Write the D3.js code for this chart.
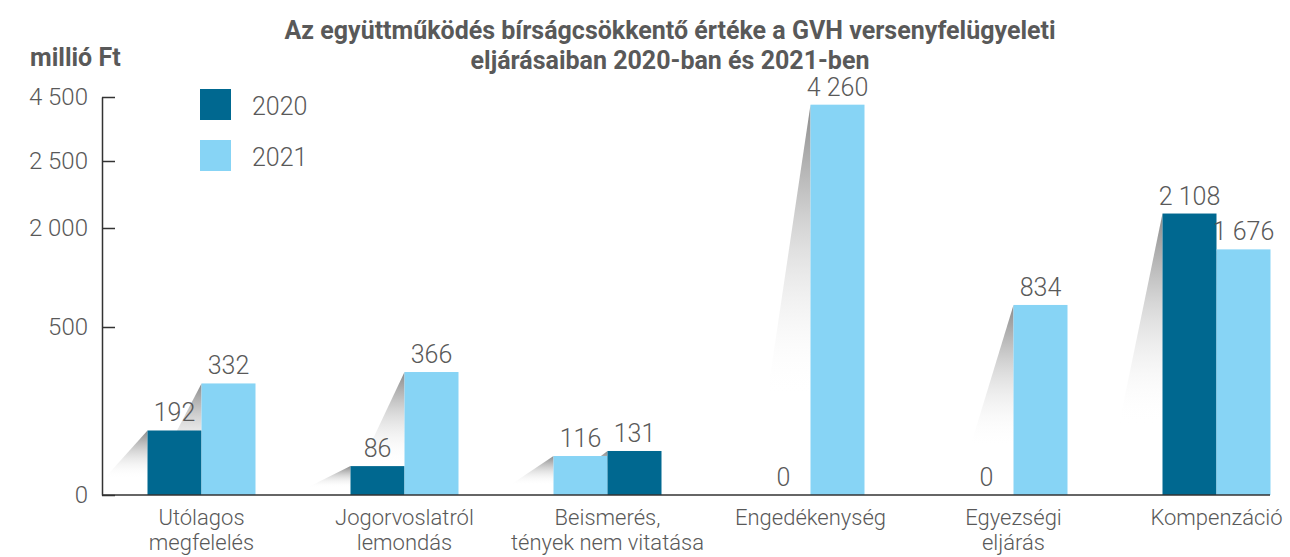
<!DOCTYPE html>
<html>
<head>
<meta charset="utf-8">
<script src="https://cdn.jsdelivr.net/npm/d3@7"></script>
<style>
body{margin:0;background:#fff;}
text{font-family:Roboto, 'Noto Sans', sans-serif;}
</style>
</head>
<body>
<svg id="svg" width="1290" height="557"></svg>
<script>
// data
var categories = [
    ['Utólagos', 'megfelelés'],
    ['Jogorvoslatról', 'lemondás'],
    ['Beismerés,', 'tények nem vitatása'],
    ['Engedékenység'],
    ['Egyezségi', 'eljárás'],
    ['Kompenzáció']
];
var years = ['2020', '2021'];
var values2020 = [192, 86, 116, 0, 0, 2108];
var values2021 = [332, 366, 131, 4260, 834, 1676];
// the third group shows its colours the other way round in the original
var flipped = [false, false, true, false, false, false];
var yTicks = [0, 500, 2000, 2500, 4500];

var title = ['Az együttműködés bírságcsökkentő értéke a GVH versenyfelügyeleti',
             'eljárásaiban 2020-ban és 2021-ben'];
var unit = 'millió Ft';

var colors = ['#006890', '#87d4f5'];
var textColor = '#595959';

function fmt(v){
    return d3.format(',')(v).replace(/,/g, ' ');
}

function draw(){
    var s = d3.select('#svg');
    var y0 = 495;

    // broken axis: each tick gets its own spot
    var y = d3.scaleLinear()
        .domain(yTicks)
        .range([y0, 327, 228, 161, 97]);

    var x = d3.scaleBand()
        .domain(d3.range(categories.length))
        .range([100, 1318]);
    var xi = d3.scaleBand()
        .domain([0, 1])
        .range([0, 108]);

    var defs = s.append('defs');
    var g = defs.append('linearGradient')
        .attr('id', 'shade')
        .attr('x1', 0).attr('y1', 0)
        .attr('x2', 0).attr('y2', 1);
    g.append('stop').attr('offset', '0%').attr('stop-color', '#8a8a8a').attr('stop-opacity', 1);
    g.append('stop').attr('offset', '30%').attr('stop-color', '#c8c8c8').attr('stop-opacity', 0.8);
    g.append('stop').attr('offset', '75%').attr('stop-color', '#ffffff').attr('stop-opacity', 0);

    // title
    s.append('text')
        .attr('x', 670)
        .attr('y', 39)
        .attr('text-anchor', 'middle')
        .attr('font-size', 25)
        .attr('font-weight', 'bold')
        .attr('fill', textColor)
        .selectAll('tspan')
        .data(title)
        .join('tspan')
        .attr('x', 670)
        .attr('dy', function(d, i){ return i ? 30 : 0; })
        .text(function(d){ return d; });

    s.append('text')
        .attr('x', 30)
        .attr('y', 66)
        .attr('font-size', 25)
        .attr('font-weight', 'bold')
        .attr('fill', textColor)
        .text(unit);

    // bars in drawing order, left to right per group
    var bars = [];
    for(var i=0;i<categories.length;i++){
        var pair = [values2020[i], values2021[i]];
        for(var j=0;j<2;j++){
            var c = flipped[i] ? 1 - j : j;
            bars.push({cat: i, pos: j, value: pair[j], color: colors[c]});
        }
    }

    function bx(d){ return x(d.cat) + (x.bandwidth() - 108) / 2 + xi(d.pos); }

    // grey cast shadows on the left side of each bar
    s.append('g')
        .selectAll('polygon')
        .data(bars.filter(function(d){ return d.value > 0; }))
        .join('polygon')
        .attr('points', function(d){
            var l = bx(d), t = y(d.value);
            return l + ',' + t + ' ' + l + ',' + y0 + ' ' + (l - 58) + ',' + y0;
        })
        .attr('fill', 'url(#shade)');

    s.append('g')
        .selectAll('rect')
        .data(bars)
        .join('rect')
        .attr('x', bx)
        .attr('y', function(d){ return y(d.value); })
        .attr('width', xi.bandwidth())
        .attr('height', function(d){ return y0 - y(d.value); })
        .attr('fill', function(d){ return d.color; });

    s.append('g')
        .selectAll('text')
        .data(bars)
        .join('text')
        .attr('x', function(d){ return bx(d) + xi.bandwidth() / 2; })
        .attr('y', function(d){ return y(d.value) - 9; })
        .attr('text-anchor', 'middle')
        .attr('font-size', 25)
        .attr('font-weight', 300)
        .attr('fill', textColor)
        .text(function(d){ return fmt(d.value); });

    // y axis
    var ax = s.append('g')
        .attr('transform', 'translate(102,0)')
        .call(d3.axisLeft(y)
            .tickValues(yTicks)
            .tickSizeInner(-13)
            .tickSizeOuter(0)
            .tickPadding(14)
            .tickFormat(fmt));
    ax.select('.domain').attr('stroke', '#333').attr('stroke-width', 1.5);
    ax.selectAll('.tick line').attr('stroke', '#333').attr('stroke-width', 1.5);
    ax.selectAll('.tick text')
        .attr('font-size', 24)
        .attr('font-weight', 300)
        .attr('font-family', 'Roboto')
        .attr('fill', textColor);

    // baseline
    s.append('line')
        .attr('x1', 102)
        .attr('x2', 1270)
        .attr('y1', y0)
        .attr('y2', y0)
        .attr('stroke', '#333')
        .attr('stroke-width', 1.5);

    // category labels
    s.append('g')
        .selectAll('text')
        .data(categories)
        .join('text')
        .attr('text-anchor', 'middle')
        .attr('font-size', 22)
        .attr('font-weight', 300)
        .attr('fill', textColor)
        .each(function(d, i){
            d3.select(this)
                .selectAll('tspan')
                .data(d)
                .join('tspan')
                .attr('x', x(i) + x.bandwidth() / 2)
                .attr('y', function(t, k){ return 525 + k * 25; })
                .text(function(t){ return t; });
        });

    // legend
    var lg = s.append('g')
        .selectAll('g')
        .data(years)
        .join('g')
        .attr('transform', function(d, i){ return 'translate(200,' + (89 + i * 51) + ')'; });
    lg.append('rect')
        .attr('width', 31)
        .attr('height', 31)
        .attr('fill', function(d, i){ return colors[i]; });
    lg.append('text')
        .attr('x', 52)
        .attr('y', 26)
        .attr('font-size', 25)
        .attr('font-weight', 300)
        .attr('fill', textColor)
        .text(function(d){ return d; });
}

draw();
</script>
</body>
</html>
